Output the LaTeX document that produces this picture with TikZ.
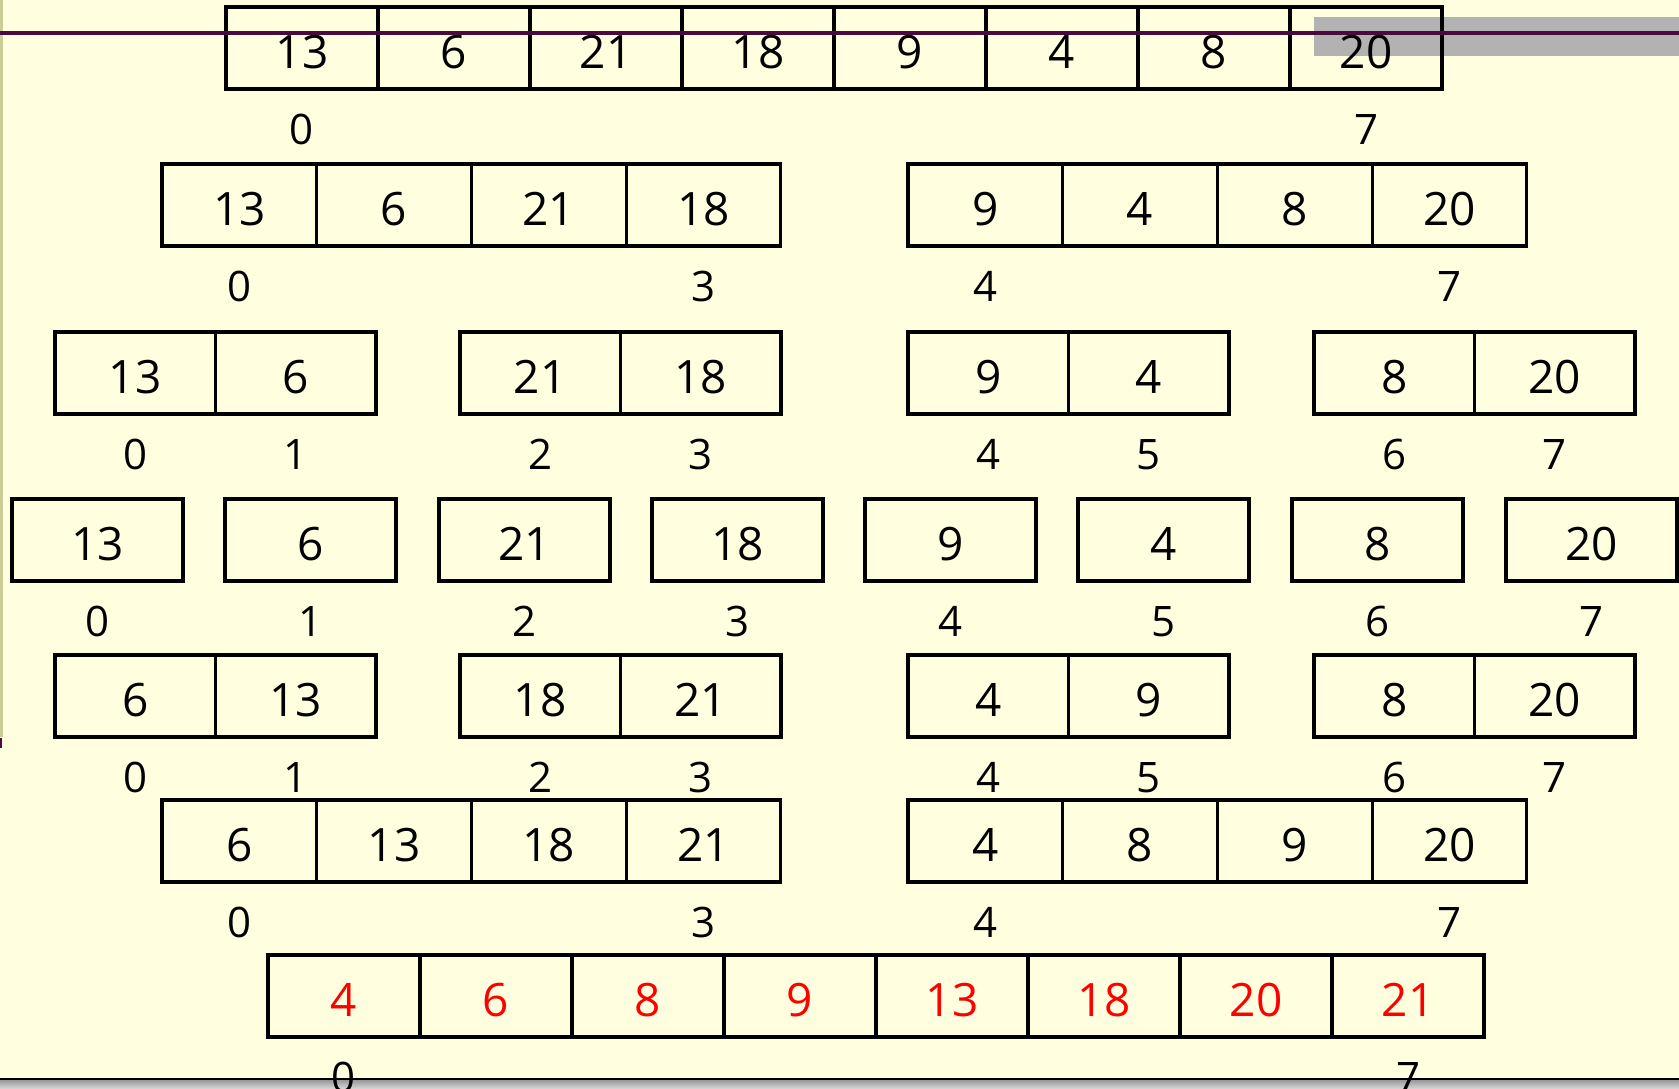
\documentclass[tikz,border=0pt]{standalone}
\usepackage{fontspec}
\setmainfont{Open Sans}
\definecolor{slidebg}{RGB}{255,255,224}
\definecolor{slidebar}{RGB}{178,178,178}
\definecolor{slideline}{RGB}{75,10,62}
\definecolor{slideedge}{RGB}{204,204,153}
\usepackage{tikz}
\usetikzlibrary{positioning}

\begin{document}
\begin{tikzpicture}[
    x=0.5pt, y=-0.5pt,
    node distance=12.5pt,
    cell/.style={rectangle, draw=black, line width=1.6pt, inner sep=0pt,
                 outer sep=0pt, minimum height=41pt, text height=20pt,
                 text depth=0pt, font=\fontsize{23}{28}\selectfont},
    wa/.style={cell, minimum width=76pt},
    wb/.style={cell, minimum width=77.35pt},
    wc/.style={cell, minimum width=80.25pt},
    wd/.style={cell, minimum width=85.5pt},
    sorted/.style={wa, text=red},
    idx/.style={inner sep=0pt, font=\fontsize{21}{25}\selectfont}
  ]
    % Slide background
    \useasboundingbox (0,0) rectangle (1679,1088);
    \fill[slidebg] (0,0) rectangle (1679,1088);
    \fill[slidebar] (1314,17) rectangle (1679,56);
    \fill[slideedge] (0,0) rectangle (3,737);
    \fill[slideline] (0,738) rectangle (2,748);
    \shade[top color=gray!80, bottom color=gray!35] (0,1080) rectangle (1679,1088);
    \draw[line width=1.3pt] (0,1079) -- (1679,1079);

    % Input array
    \node[wa, anchor=north west] (r1c0) at (226,7) {13};
    \node[wa, right=0pt of r1c0] (r1c1) {6};
    \node[wa, right=0pt of r1c1] (r1c2) {21};
    \node[wa, right=0pt of r1c2] (r1c3) {18};
    \node[wa, right=0pt of r1c3] (r1c4) {9};
    \node[wa, right=0pt of r1c4] (r1c5) {4};
    \node[wa, right=0pt of r1c5] (r1c6) {8};
    \node[wa, right=0pt of r1c6] (r1c7) {20};
    \node[idx, below=of r1c0] (r1i0) {0};
    \node[idx, below=of r1c7] (r1i7) {7};

    % Split into halves
    \node[wb, anchor=north west] (r2c0) at (162,164) {13};
    \node[wb, right=0pt of r2c0] (r2c1) {6};
    \node[wb, right=0pt of r2c1] (r2c2) {21};
    \node[wb, right=0pt of r2c2] (r2c3) {18};
    \node[wb, anchor=north west] (r2c4) at (908,164) {9};
    \node[wb, right=0pt of r2c4] (r2c5) {4};
    \node[wb, right=0pt of r2c5] (r2c6) {8};
    \node[wb, right=0pt of r2c6] (r2c7) {20};
    \node[idx, below=of r2c0] (r2i0) {0};
    \node[idx, below=of r2c3] (r2i3) {3};
    \node[idx, below=of r2c4] (r2i4) {4};
    \node[idx, below=of r2c7] (r2i7) {7};

    % Split into quarters
    \node[wc, anchor=north west] (r3c0) at (55,332) {13};
    \node[wc, right=0pt of r3c0] (r3c1) {6};
    \node[wc, anchor=north west] (r3c2) at (460,332) {21};
    \node[wc, right=0pt of r3c2] (r3c3) {18};
    \node[wc, anchor=north west] (r3c4) at (908,332) {9};
    \node[wc, right=0pt of r3c4] (r3c5) {4};
    \node[wc, anchor=north west] (r3c6) at (1314,332) {8};
    \node[wc, right=0pt of r3c6] (r3c7) {20};
    \node[idx, below=of r3c0] (r3i0) {0};
    \node[idx, below=of r3c1] (r3i1) {1};
    \node[idx, below=of r3c2] (r3i2) {2};
    \node[idx, below=of r3c3] (r3i3) {3};
    \node[idx, below=of r3c4] (r3i4) {4};
    \node[idx, below=of r3c5] (r3i5) {5};
    \node[idx, below=of r3c6] (r3i6) {6};
    \node[idx, below=of r3c7] (r3i7) {7};

    % Single elements
    \node[wd, anchor=north west] (r4c0) at (12,499) {13};
    \node[wd, anchor=north west] (r4c1) at (225,499) {6};
    \node[wd, anchor=north west] (r4c2) at (439,499) {21};
    \node[wd, anchor=north west] (r4c3) at (652,499) {18};
    \node[wd, anchor=north west] (r4c4) at (865,499) {9};
    \node[wd, anchor=north west] (r4c5) at (1078,499) {4};
    \node[wd, anchor=north west] (r4c6) at (1292,499) {8};
    \node[wd, anchor=north west] (r4c7) at (1506,499) {20};
    \node[idx, below=of r4c0] (r4i0) {0};
    \node[idx, below=of r4c1] (r4i1) {1};
    \node[idx, below=of r4c2] (r4i2) {2};
    \node[idx, below=of r4c3] (r4i3) {3};
    \node[idx, below=of r4c4] (r4i4) {4};
    \node[idx, below=of r4c5] (r4i5) {5};
    \node[idx, below=of r4c6] (r4i6) {6};
    \node[idx, below=of r4c7] (r4i7) {7};

    % Merged pairs
    \node[wc, anchor=north west] (r5c0) at (55,655) {6};
    \node[wc, right=0pt of r5c0] (r5c1) {13};
    \node[wc, anchor=north west] (r5c2) at (460,655) {18};
    \node[wc, right=0pt of r5c2] (r5c3) {21};
    \node[wc, anchor=north west] (r5c4) at (908,655) {4};
    \node[wc, right=0pt of r5c4] (r5c5) {9};
    \node[wc, anchor=north west] (r5c6) at (1314,655) {8};
    \node[wc, right=0pt of r5c6] (r5c7) {20};
    \node[idx, below=of r5c0] (r5i0) {0};
    \node[idx, below=of r5c1] (r5i1) {1};
    \node[idx, below=of r5c2] (r5i2) {2};
    \node[idx, below=of r5c3] (r5i3) {3};
    \node[idx, below=of r5c4] (r5i4) {4};
    \node[idx, below=of r5c5] (r5i5) {5};
    \node[idx, below=of r5c6] (r5i6) {6};
    \node[idx, below=of r5c7] (r5i7) {7};

    % Merged halves
    \node[wb, anchor=north west] (r6c0) at (162,800) {6};
    \node[wb, right=0pt of r6c0] (r6c1) {13};
    \node[wb, right=0pt of r6c1] (r6c2) {18};
    \node[wb, right=0pt of r6c2] (r6c3) {21};
    \node[wb, anchor=north west] (r6c4) at (908,800) {4};
    \node[wb, right=0pt of r6c4] (r6c5) {8};
    \node[wb, right=0pt of r6c5] (r6c6) {9};
    \node[wb, right=0pt of r6c6] (r6c7) {20};
    \node[idx, below=of r6c0] (r6i0) {0};
    \node[idx, below=of r6c3] (r6i3) {3};
    \node[idx, below=of r6c4] (r6i4) {4};
    \node[idx, below=of r6c7] (r6i7) {7};

    % Sorted result
    \node[sorted, anchor=north west] (r7c0) at (268,955) {4};
    \node[sorted, right=0pt of r7c0] (r7c1) {6};
    \node[sorted, right=0pt of r7c1] (r7c2) {8};
    \node[sorted, right=0pt of r7c2] (r7c3) {9};
    \node[sorted, right=0pt of r7c3] (r7c4) {13};
    \node[sorted, right=0pt of r7c4] (r7c5) {18};
    \node[sorted, right=0pt of r7c5] (r7c6) {20};
    \node[sorted, right=0pt of r7c6] (r7c7) {21};
    \node[idx, below=of r7c0] (r7i0) {0};
    \node[idx, below=of r7c7] (r7i7) {7};

    % Title rule
    \draw[slideline, line width=1.8pt] (0,33) -- (1679,33);
  \end{tikzpicture}
\end{document}
